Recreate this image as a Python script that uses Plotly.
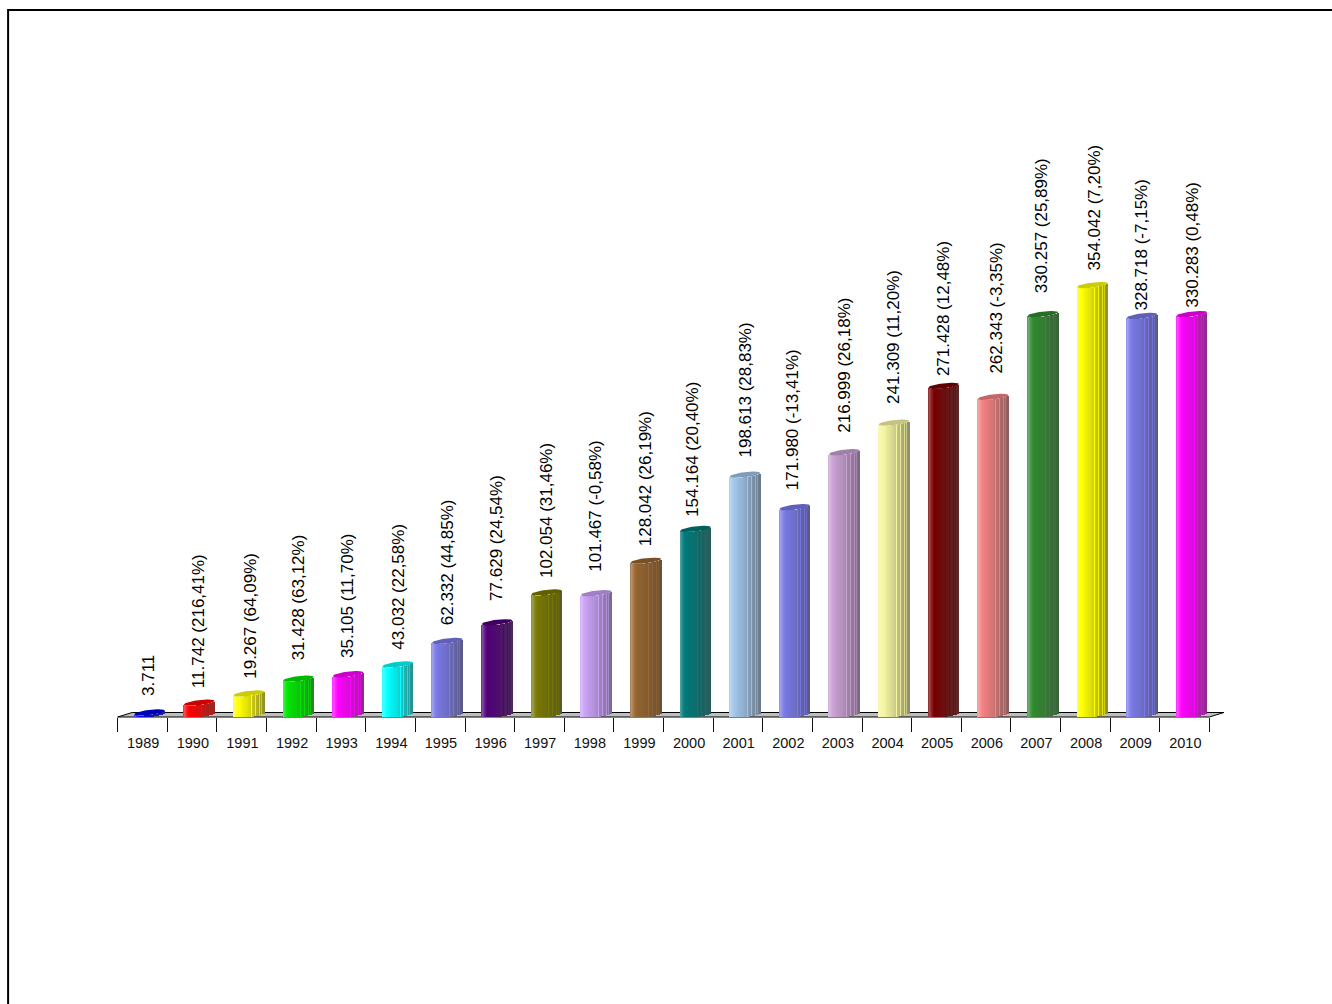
import numpy as np
import plotly.graph_objects as go

YEARS = [1989, 1990, 1991, 1992, 1993, 1994, 1995, 1996, 1997, 1998, 1999,
         2000, 2001, 2002, 2003, 2004, 2005, 2006, 2007, 2008, 2009, 2010]
VALUES = [3711, 11742, 19267, 31428, 35105, 43032, 62332, 77629, 102054, 101467, 128042,
          154164, 198613, 171980, 216999, 241309, 271428, 262343, 330257, 354042, 328718, 330283]
CHANGES = ["", "216,41%", "64,09%", "63,12%", "11,70%", "22,58%", "44,85%", "24,54%", "31,46%", "-0,58%", "26,19%",
           "20,40%", "28,83%", "-13,41%", "26,18%", "11,20%", "12,48%", "-3,35%", "25,89%", "7,20%", "-7,15%", "0,48%"]
COLORS = ["#0000e6", "#ff0000", "#ffff00", "#00e600", "#ff00ff", "#00ffff", "#7878e6", "#500078",
          "#787800", "#c8a0f5", "#96642f", "#007878", "#a0c4ea", "#7878e6", "#c8a0d2", "#f5f5a0",
          "#780000", "#f58080", "#308a30", "#ffff00", "#7878e6", "#ff00ff"]
LABEL_GAP = [14.5, 12.7, 12.5, 16.7, 14.2, 12.5, 14, 19.3, 12.5, 19.2, 12.8,
             10, 14.7, 15.2, 17.3, 16.6, 7.8, 21, 19, 13, 3, 4]
LABEL_SHIFT = [-1, 0, 2, 1, 0, 0, 1, 0, 0, -1, 0, -3, 0, -2, 0, -1, 0, 3, -1, 2, -1, 0]
SHADES = [0.20, 0.30, 0.22, 0.14, 0.08, 0.03, 0, -0.03, -0.06, -0.08, -0.10, -0.12, -0.14, -0.16, -0.18, -0.21,
          -0.24, -0.27, 0.02, -0.33, -0.36, -0.38, -0.06, -0.44, -0.47, -0.50, -0.16, -0.55, -0.30, -0.60, -0.65]

# pixel geometry
W, H = 1332, 1004
LEFT, RIGHT, BASE_Y = 117.5, 1209.0, 717.0
PX_PER_CAT = (RIGHT - LEFT) / len(YEARS)
PX_PER_UNIT = 0.00122
A_PX, B_PX, TILT_PX = 15.3, 2.6, 1.8
BOTTOM_PX = 2.4
cyl_center = 0.643
half_w = A_PX / PX_PER_CAT
u_units = 1 / PX_PER_UNIT
FLOOR_DX, FLOOR_DY = 14.5, 4.5


def rgb(c):
    return tuple(int(c[j:j + 2], 16) for j in (1, 3, 5))


def shade(c, s):
    r = np.array(rgb(c), float)
    t = np.array((255, 255, 255.)) if s >= 0 else np.array((70, 70, 70.))
    m = r + (t - r) * min(abs(s) * (1 if s >= 0 else 0.9), 1)
    return "rgb(%d,%d,%d)" % tuple(m)


fig = go.Figure()

# cylinder bodies: vertical strips
n = len(SHADES)
idx = np.arange(len(YEARS))
vals = np.array(VALUES, float)
for k, s in enumerate(SHADES):
    u = (k + 0.5) / n * 2 - 1
    curve = TILT_PX * u - B_PX * np.sqrt(1 - u * u)
    base = (BOTTOM_PX + curve) * u_units
    top = vals + curve * u_units
    fig.add_trace(go.Bar(x=idx + cyl_center + u * half_w, y=top - base, base=np.full(len(idx), base),
                         width=2 * half_w / n * 1.2,
                         marker=dict(color=[shade(c, s) for c in COLORS], line=dict(width=0)),
                         hoverinfo="skip", showlegend=False))

# cylinder tops
t = np.linspace(0, 2 * np.pi, 61)
for i, (v, c) in enumerate(zip(VALUES, COLORS)):
    r = np.array(rgb(c)) * 0.8
    fig.add_trace(go.Scatter(x=i + cyl_center + half_w * np.cos(t),
                             y=v + (TILT_PX * np.cos(t) + B_PX * np.sin(t)) * u_units,
                             mode="lines", fill="toself", line=dict(width=0),
                             fillcolor="rgb(%d,%d,%d)" % tuple(r), hoverinfo="skip", showlegend=False))

# value labels
for i, (v, ch) in enumerate(zip(VALUES, CHANGES)):
    txt = f"{v:,}".replace(",", ".") + (f" ({ch})" if ch else "")
    fig.add_annotation(x=i + cyl_center, y=v, text=txt, textangle=-90, showarrow=False,
                       yanchor="bottom", xanchor="center", yshift=LABEL_GAP[i], xshift=LABEL_SHIFT[i],
                       font=dict(family="Liberation Sans", size=17, color="black"))

pl = LEFT - PX_PER_CAT
pr = RIGHT + PX_PER_CAT
pw = pr - pl


def px(x):
    return (x - pl) / pw


def py(y):
    return (BASE_Y - y) / BASE_Y


floor_path = "M %f %f L %f %f L %f %f L %f %f Z" % (
    px(LEFT), py(BASE_Y), px(LEFT + FLOOR_DX), py(BASE_Y - FLOOR_DY),
    px(RIGHT + FLOOR_DX), py(BASE_Y - FLOOR_DY), px(RIGHT), py(BASE_Y))

fig.update_layout(
    width=W, height=H, margin=dict(l=pl, r=W - pr, t=0, b=H - BASE_Y, pad=0, autoexpand=False),
    paper_bgcolor="white", plot_bgcolor="rgba(0,0,0,0)", barmode="overlay", bargap=0, showlegend=False,
    xaxis=dict(range=[-1, len(YEARS) + 1], showgrid=False, zeroline=False, showline=False,
               tickmode="array", tickvals=list(idx + 0.515), ticktext=[str(y) for y in YEARS],
               ticks="outside", ticklen=13, tickcolor="rgba(0,0,0,0)", tickwidth=1,
               tickfont=dict(family="Liberation Sans", size=14.5, color="#111111"),
               minor=dict(tickmode="array", tickvals=list(range(len(YEARS) + 1)), ticks="outside",
                          ticklen=14, tickcolor="#111111", tickwidth=1, showgrid=False)),
    yaxis=dict(range=[0, BASE_Y * u_units], visible=False),
    shapes=[dict(type="path", xref="paper", yref="paper", layer="below", path=floor_path,
                 fillcolor="#bebebe", line=dict(color="black", width=1)),
            dict(type="path", xref="paper", yref="paper",
                 path="M %f %f L %f %f L %f %f" % (px(8), py(H), px(8), py(10), px(W), py(10)),
                 line=dict(color="black", width=2))],
)

fig.write_html("out.html", config={"displayModeBar": False},
               post_script="document.body.style.margin='0';document.body.style.overflow='hidden';")
